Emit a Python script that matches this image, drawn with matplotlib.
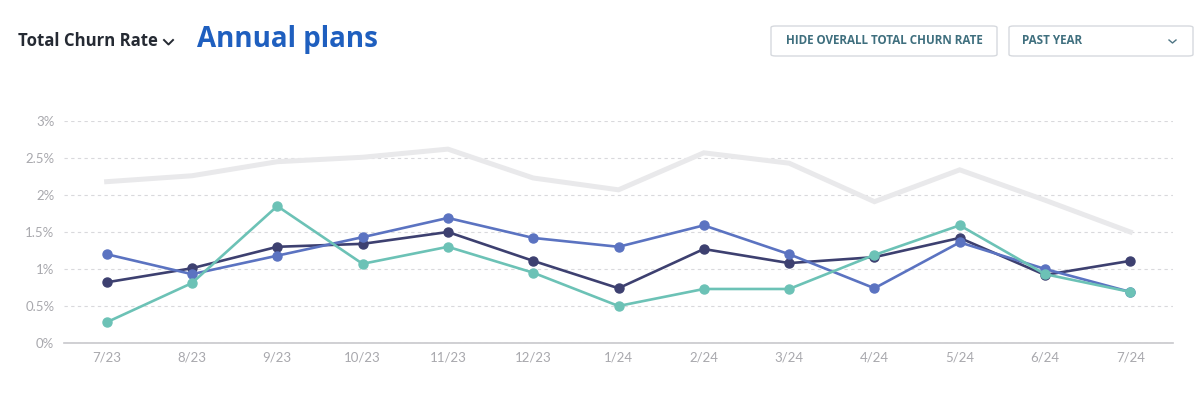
import matplotlib
matplotlib.use("Agg")
import matplotlib.pyplot as plt
from matplotlib.patches import FancyBboxPatch
from matplotlib.lines import Line2D

months = ["7/23", "8/23", "9/23", "10/23", "11/23", "12/23", "1/24",
          "2/24", "3/24", "4/24", "5/24", "6/24", "7/24"]
overall = [2.18, 2.26, 2.45, 2.51, 2.62, 2.23, 2.07, 2.57, 2.43, 1.91, 2.34, 1.93, 1.50]
navy_vals = [0.82, 1.01, 1.30, 1.34, 1.50, 1.11, 0.74, 1.27, 1.08, 1.16, 1.42, 0.92, 1.11]
blue_vals = [1.20, 0.93, 1.18, 1.43, 1.69, 1.42, 1.30, 1.59, 1.20, 0.74, 1.36, 1.00, 0.69]
teal_vals = [0.28, 0.81, 1.85, 1.07, 1.30, 0.95, 0.50, 0.73, 0.73, 1.19, 1.59, 0.93, 0.69]
y_ticks = [0, 0.5, 1, 1.5, 2, 2.5, 3]
y_labels = ["0%", "0.5%", "1%", "1.5%", "2%", "2.5%", "3%"]

W, H = 1200, 394
fig = plt.figure(figsize=(W / 100, H / 100), dpi=100)
ax = fig.add_axes([64 / W, (H - 343) / H, (1173 - 64) / W, (343 - 121) / H])

x = list(range(len(months)))
ax.plot(x, overall, color="#e9e9eb", lw=3.6, solid_joinstyle="miter", zorder=2)
ax.plot(x, navy_vals, color="#3d4070", lw=1.9, marker="o", ms=6.5, zorder=3, clip_on=False)
ax.plot(x, blue_vals, color="#5b73c1", lw=1.9, marker="o", ms=6.5, zorder=4, clip_on=False)
ax.plot(x, teal_vals, color="#6cc2b6", lw=1.9, marker="o", ms=6.5, zorder=5, clip_on=False)

ax.set_xlim(-0.5, 12.5)
ax.set_ylim(0, 3)
ax.set_xticks(x)
ax.set_xticklabels(months)
ax.set_yticks(y_ticks)
ax.set_yticklabels(y_labels)
ax.tick_params(length=0, labelsize=9.5, colors="#a8a8ad", pad=7)
ax.tick_params(axis="x", pad=6)
for lab in ax.get_xticklabels() + ax.get_yticklabels():
    lab.set_fontfamily("Lato")
ax.yaxis.grid(True, color="#d9d9dc", linestyle=(0, (3, 3)), lw=0.8)
ax.set_axisbelow(True)
for s in ["top", "right", "left"]:
    ax.spines[s].set_visible(False)
ax.spines["bottom"].set_color("#c8c8cc")
ax.spines["bottom"].set_linewidth(1.2)
ax.spines["bottom"].set_zorder(1)

# Header
fig.text(18 / W, 1 - 41 / H, "Total Churn Rate", fontsize=12.1, fontweight="bold",
         color="#252a33", family="Open Sans", va="center", ha="left")
fig.add_artist(Line2D([164 / W, 168.5 / W, 173 / W], [1 - 40 / H, 1 - 44.5 / H, 1 - 40 / H],
                      color="#252a33", lw=1.4))
fig.text(197 / W, 1 - 39 / H, "Annual plans", fontsize=20, fontweight="bold",
         color="#1f5fbf", family="Open Sans", va="center", ha="left")

# Buttons
def button(x0, x1, y0, y1):
    fig.add_artist(FancyBboxPatch((x0 / W, 1 - y1 / H), (x1 - x0) / W, (y1 - y0) / H,
                                  boxstyle="round,pad=0,rounding_size=0.004",
                                  fc="white", ec="#d6d9de", lw=1.0,
                                  transform=fig.transFigure))

button(771, 997, 26, 56)
fig.text(884 / W, 1 - 41 / H, "HIDE OVERALL TOTAL CHURN RATE", fontsize=8.4, fontweight="bold",
         color="#3f6f7e", family="Open Sans", va="center", ha="center")
button(1009, 1193, 26, 56)
fig.text(1022 / W, 1 - 41 / H, "PAST YEAR", fontsize=8.4, fontweight="bold",
         color="#3f6f7e", family="Open Sans", va="center", ha="left")
fig.add_artist(Line2D([1169 / W, 1172.5 / W, 1176 / W], [1 - 40 / H, 1 - 43 / H, 1 - 40 / H],
                      color="#4f7584", lw=1.0))

fig.savefig("out.png", dpi=100)
